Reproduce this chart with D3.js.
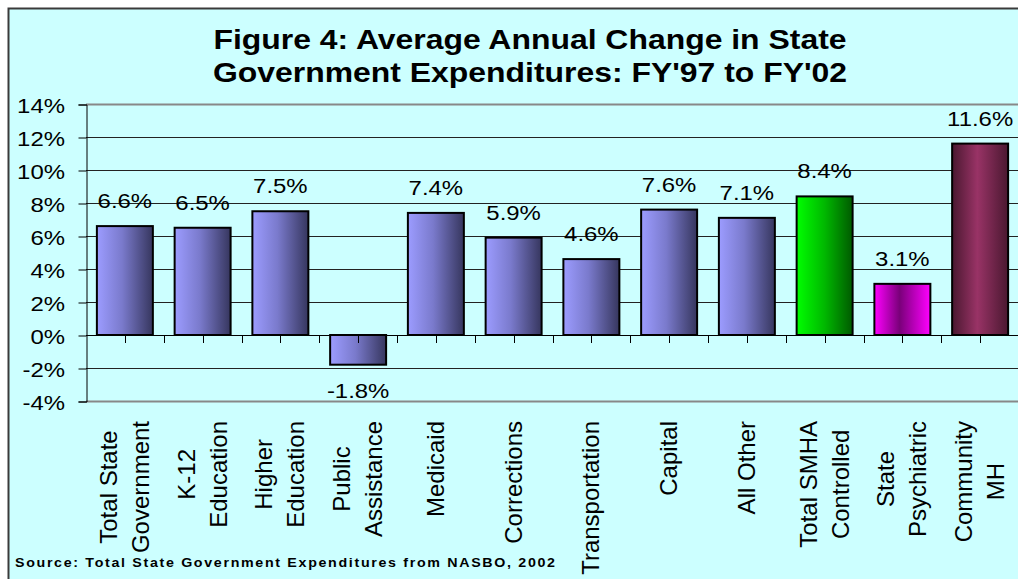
<!DOCTYPE html>
<html>
<head>
<meta charset="utf-8">
<script src="https://cdn.jsdelivr.net/npm/d3@7"></script>
<style>
  body { margin: 0; background: #fff; }
  text { font-family: Arial, "Liberation Sans", sans-serif; fill: #000; }
</style>
</head>
<body>
<script>
var w = 1018, h = 579;
var sx = 1.14; // the original picture is a little stretched sideways

// chart data
var categories = ["Total State\nGovernment", "K-12\nEducation", "Higher\nEducation",
  "Public\nAssistance", "Medicaid", "Corrections", "Transportation", "Capital",
  "All Other", "Total SMHA\nControlled", "State\nPsychiatric", "Community\nMH"];
var values = [6.6, 6.5, 7.5, -1.8, 7.4, 5.9, 4.6, 7.6, 7.1, 8.4, 3.1, 11.6];
var groups = ["state", "state", "state", "state", "state", "state", "state", "state",
  "state", "smha", "psych", "cmh"];
var yTicks = [-4, -2, 0, 2, 4, 6, 8, 10, 12, 14];
var titleLines = ["Figure 4: Average Annual Change in State",
  "Government Expenditures: FY'97 to FY'02"];
var source = "Source: Total State Government Expenditures from NASBO, 2002";

var svg = d3.select("body").append("svg")
  .attr("width", w)
  .attr("height", h);

// gradients (one per group)
var defs = svg.append("defs");
var gradStops = {
  state: [[0, "#9c9cff"], [0.45, "#7a7acc"], [1, "#36365e"]],
  smha: [[0, "#00ff00"], [0.5, "#00b800"], [1, "#005a00"]],
  psych: [[0, "#ff00ff"], [0.45, "#7a007a"], [1, "#ff00ff"]],
  cmh: [[0, "#4a1830"], [0.45, "#993366"], [1, "#4a1830"]]
};
Object.keys(gradStops).forEach(function(k) {
  var g = defs.append("linearGradient")
    .attr("id", "g-" + k)
    .attr("x1", "0").attr("x2", "1").attr("y1", "0").attr("y2", "0");
  gradStops[k].forEach(function(s) {
    g.append("stop").attr("offset", s[0]).attr("stop-color", s[1]);
  });
});

svg.append("rect")
  .attr("x", 8.5).attr("y", 8.5)
  .attr("width", w + 20).attr("height", h + 20)
  .style("fill", "#ccffff")
  .style("stroke", "#3a3a3a")
  .style("stroke-width", 2);

var x = d3.scaleBand()
  .domain(categories)
  .range([86, 1019])
  .paddingInner(0.28)
  .paddingOuter(0.14);

var y = d3.scaleLinear()
  .domain([-4, 14])
  .range([401, 104]);

// gridlines
svg.selectAll(".grid")
  .data(yTicks)
  .enter()
  .append("line")
  .attr("class", "grid")
  .attr("x1", 86).attr("x2", 1019)
  .attr("y1", function(d) { return Math.round(y(d)) + 0.5; })
  .attr("y2", function(d) { return Math.round(y(d)) + 0.5; })
  .style("stroke", function(d) { return (d == 14 || d == -4) ? "#888" : (d == 0 ? "#000" : "#222"); })
  .style("stroke-width", function(d) { return (d == 14 || d == -4) ? 2 : 1; });

// bars
svg.selectAll(".bar")
  .data(values)
  .enter()
  .append("rect")
  .attr("class", "bar")
  .attr("x", function(d, i) { return x(categories[i]); })
  .attr("width", x.bandwidth())
  .attr("y", function(d) { return y(Math.max(0, d)); })
  .attr("height", function(d) { return Math.abs(y(d) - y(0)); })
  .style("fill", function(d, i) { return "url(#g-" + groups[i] + ")"; })
  .style("stroke", "#000")
  .style("stroke-width", 2);

// category ticks on the zero line, every half band
var halfTicks = d3.range(1, categories.length * 2).map(function(k) {
  return x.range()[0] + k * x.step() / 2;
});
svg.selectAll(".xtick")
  .data(halfTicks)
  .enter()
  .append("line")
  .attr("class", "xtick")
  .attr("x1", function(d) { return Math.round(d) + 0.5; })
  .attr("x2", function(d) { return Math.round(d) + 0.5; })
  .attr("y1", y(0)).attr("y2", y(0) + 8)
  .style("stroke", "#000");

// y axis
var yAxis = d3.axisLeft(y)
  .tickValues(yTicks)
  .tickSize(8)
  .tickFormat(function(d) { return d + "%"; });

var ya = svg.append("g")
  .attr("transform", "translate(86.5,0.5)")
  .call(yAxis);
ya.select(".domain").style("stroke", "#000");
ya.selectAll("line").style("stroke", "#000");
ya.selectAll("text")
  .style("font-family", "Arial, 'Liberation Sans', sans-serif")
  .style("font-size", "21px")
  .attr("x", -21.5 / sx)
  .attr("transform", "scale(" + sx + ",1)")
  .attr("dy", "0.36em");

// value labels
svg.selectAll(".val")
  .data(values)
  .enter()
  .append("g")
  .attr("class", "val")
  .attr("transform", function(d, i) {
    var cx = x(categories[i]) + x.bandwidth() / 2;
    var cy = d >= 0 ? y(d) - 18 : y(d) + 33;
    return "translate(" + cx + "," + cy + ") scale(" + sx + ",1)";
  })
  .append("text")
  .attr("text-anchor", "middle")
  .style("font-size", "21px")
  .text(function(d) { return d.toFixed(1) + "%"; });

// category labels, rotated
var lab = svg.selectAll(".cat")
  .data(categories)
  .enter()
  .append("g")
  .attr("class", "cat");

lab.each(function(c) {
  var g = d3.select(this);
  var lines = c.split("\n");
  var texts = lines.map(function(t) {
    return g.append("text")
      .attr("text-anchor", "middle")
      .style("font-size", "24px")
      .text(t);
  });
  var maxLen = d3.max(texts, function(t) { return t.node().getComputedTextLength(); });
  var cx = x(c) + x.bandwidth() / 2;
  var cy = 421 + maxLen / 2;
  texts.forEach(function(t, i) {
    var off = (i - (lines.length - 1) / 2) * 32 + 8;
    t.attr("transform", "translate(" + (cx + off) + "," + cy + ") rotate(-90)");
  });
});

// title
svg.selectAll(".title")
  .data(titleLines)
  .enter()
  .append("g")
  .attr("class", "title")
  .attr("transform", function(d, i) { return "translate(530," + (49 + i * 33) + ") scale(" + sx + ",1)"; })
  .append("text")
  .attr("text-anchor", "middle")
  .style("font-size", "28px")
  .style("font-weight", "bold")
  .text(function(d) { return d; });

// source note
svg.append("g")
  .attr("transform", "translate(15,567) scale(" + sx + ",1)")
  .append("text")
  .attr("textLength", 540 / sx)
  .attr("lengthAdjust", "spacing")
  .style("font-size", "12.5px")
  .style("font-weight", "bold")
  .text(source);
</script>
</body>
</html>
